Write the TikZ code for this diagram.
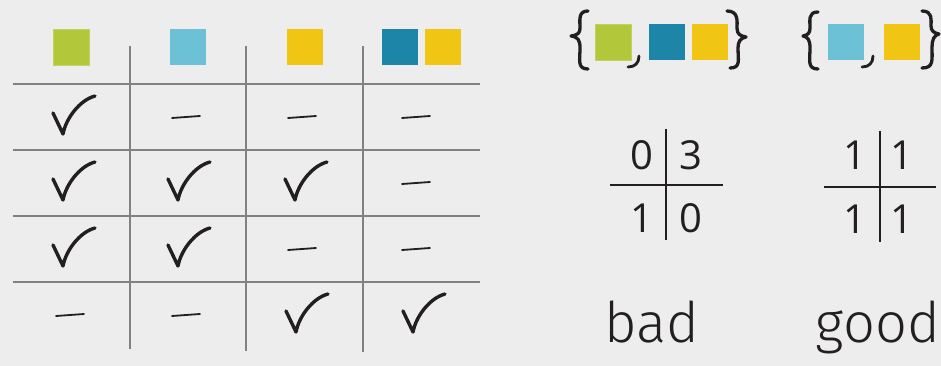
\documentclass[tikz,border=0pt]{standalone}
\usepackage{fontspec}
\setmainfont{Open Sans}
\newfontfamily\handfont{Fira Sans Light}
\definecolor{bg}{HTML}{ECEDEC}
\definecolor{grid}{HTML}{808183}
\definecolor{ink}{HTML}{231F20}
\definecolor{cgreen}{HTML}{B2C73A}
\definecolor{ccyan}{HTML}{6CC1D6}
\definecolor{cyellow}{HTML}{F0C513}
\definecolor{cblue}{HTML}{1D85A7}
\tikzset{
  gridline/.style={grid, line width=2pt},
  inkline/.style={ink, line width=3.4pt, line cap=round, line join=round},
  dashline/.style={ink, line width=1.8pt, line cap=round},
  tabline/.style={ink, line width=1.8pt},
  brace/.style={ink, line width=3.3pt, line cap=round, line join=round},
  sq/.style={minimum size=36pt, inner sep=0pt, outer sep=0pt},
  digit/.style={ink, font=\fontsize{40}{40}\selectfont, inner sep=0pt, anchor=base},
  hand/.style={ink, font=\handfont\fontsize{56}{56}\selectfont, inner sep=0pt, anchor=base},
  chk/.pic={\draw[inkline] (-18,-4) -- (-8,17) .. controls (-5,1) and (9,-17) .. (24,-21);},
  dsh/.pic={\draw[dashline] (-14,1) -- (14,-1);}
}
\begin{document}
\begin{tikzpicture}[x=1pt,y=-1pt]
\fill[bg] (0,0) rectangle (941,366);
\useasboundingbox (0,0) rectangle (941,366);
% header squares
\node[sq, fill=cgreen, draw=cgreen!80!white, line width=0.8pt] (h1) at (71,47) {};
\node[sq, fill=ccyan] (h2) at (188,47) {};
\node[sq, fill=cyellow] (h3) at (305,47) {};
\node[sq, fill=cblue] (h4a) at (400,47) {};
\node[sq, fill=cyellow] (h4b) at (443,47) {};
% grid
\foreach \y in {84,150,216,282} \draw[gridline] (13,\y) -- (480,\y);
\draw[gridline] (129.5,46) -- (129.5,349);
\draw[gridline] (246,46) -- (246,351);
\draw[gridline] (363,46) -- (363,352);
% row 1
\pic at (71,117) {chk};
\pic at (186,117) {dsh};
\pic at (302,117) {dsh};
\pic at (416,117) {dsh};
% row 2
\pic at (71,183) {chk};
\pic at (186,183) {chk};
\pic at (303,183) {chk};
\pic at (416,183) {dsh};
% row 3
\pic at (71,249) {chk};
\pic at (186,249) {chk};
\pic at (302,249) {dsh};
\pic at (416,249) {dsh};
% row 4
\pic at (70,315) {dsh};
\pic at (186,315) {dsh};
\pic at (304,315) {chk};
\pic at (421,315) {chk};
% set 1
\draw[brace] (588,11) .. controls (578,11) and (580,20) .. (580,28) .. controls (580,33) and (578,35) .. (571,36) .. controls (578,37) and (580,40) .. (580,48) .. controls (580,60) and (577,69) .. (588,69);
\node[sq, fill=cgreen, draw=cgreen!80!white, line width=0.8pt] (s1a) at (613.5,42) {};
\draw[brace, line width=2.8pt] (639,56) .. controls (639,63) and (635,67) .. (628,67);
\node[sq, fill=cblue] (s1b) at (667,42) {};
\node[sq, fill=cyellow] (s1c) at (710,42) {};
\draw[brace] (727,11) .. controls (739,11) and (737,22) .. (737,28) .. controls (737,34) and (740,36) .. (746,37) .. controls (740,38) and (738,42) .. (738,48) .. controls (738,60) and (741,68) .. (730,68);
% set 2
\draw[brace] (818,12) .. controls (808,12) and (810,20) .. (810,28) .. controls (810,33) and (808,35) .. (803,36) .. controls (808,37) and (810,40) .. (810,48) .. controls (810,60) and (807,69) .. (818,69);
\node[sq, fill=ccyan] (s2a) at (846,42) {};
\draw[brace, line width=2.8pt] (873,56) .. controls (873,63) and (869,67) .. (862,67);
\node[sq, fill=cyellow] (s2b) at (902,42) {};
\draw[brace] (922,11) .. controls (933,11) and (931,20) .. (931,26) .. controls (931,31) and (934,33) .. (939,34) .. controls (934,35) and (932,40) .. (932,47) .. controls (932,60) and (934,68) .. (922,68);
% bad table
\draw[tabline] (666,129) -- (666,240);
\draw[tabline] (610,185) -- (723,185);
\node[digit] (b11) at (642,169) {0};
\node[digit] (b12) at (691,169) {3};
\node[digit] (b21) at (642,232) {1};
\node[digit] (b22) at (691,232) {0};
% good table
\draw[tabline] (880,131) -- (880,242);
\draw[tabline] (824,187) -- (936,187);
\node[digit] (g11) at (855,170) {1};
\node[digit] (g12) at (902,170) {1};
\node[digit] (g21) at (855,233) {1};
\node[digit] (g22) at (902,233) {1};
% labels
\node[hand] (bad) at (652,342) {bad};
\node[hand] (good) at (878,342) {good};
\end{tikzpicture}
\end{document}
